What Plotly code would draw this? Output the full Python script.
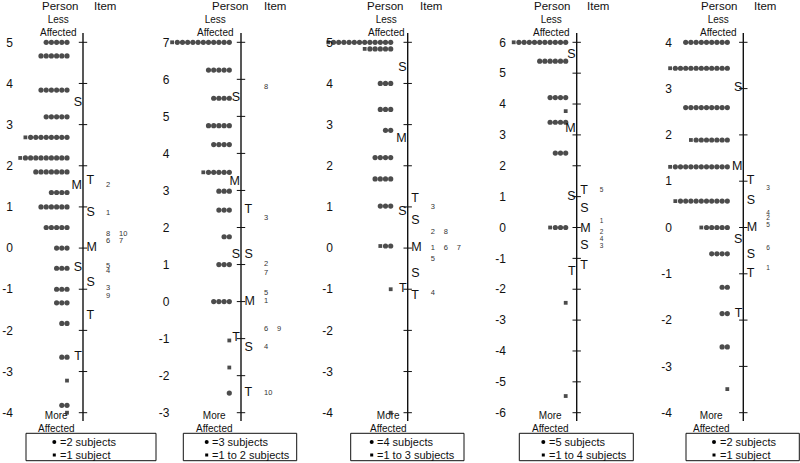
import plotly.graph_objects as go

FONT = "Liberation Sans, Arial, sans-serif"
W, H = 800, 463

# ---------------- data ----------------
# Panel 1  ('#' = 2 subjects, '.' = 1 subject)
p1_ticks = [-4, -3, -2, -1, 0, 1, 2, 3, 4, 5]
p1_person_vals = [5.0, 4.67, 3.84, 3.19, 2.69, 2.19, 1.85, 1.35, 1.0, 0.5, 0.0, -0.49, -1.0, -1.33, -1.83, -2.65, -3.22, -3.82, -4.0]
p1_person_rows = ["#####", "######", "######", "#####", ".########", ".#########", "#######", "####", "######", "#####",
                  "###", "###", "###", "###", "##", "##", ".", "##", "."]
p1_pstat_vals = [3.54, 1.51, -0.48, -2.64]
p1_pstat_lbls = ["S", "M", "S", "T"]
p1_istat_vals = [1.63, 0.86, 0.0, -0.84, -1.65]
p1_istat_lbls = ["T", "S", "M", "S", "T"]
p1_item_vals = [1.52, 0.86, 0.35, 0.16, -0.45, -0.57, -0.97, -1.16]
p1_item_lbls = ["2", "1", "8 10", "6 7", "5", "4", "3", "9"]
p1_legend = ["=2 subjects", "=1 subject"]

# Panel 2  ('#' = 3 subjects, '.' = 1 to 2 subjects)
p2_ticks = [-3, -2, -1, 0, 1, 2, 3, 4, 5, 6, 7]
p2_person_vals = [7.0, 6.25, 5.49, 4.75, 4.24, 3.49, 2.98, 2.47, 1.75, 1.0, 0.0, -1.05, -1.78, -2.47]
p2_person_rows = [".###########", "#####", "####", "#####", "####", ".#####", "###", "###", "##", "###", "####", ".", ".", "#"]
p2_pstat_vals = [5.49, 3.23, 1.27, -0.98]
p2_pstat_lbls = ["S", "M", "S", "T"]
p2_istat_vals = [2.47, 1.27, 0.0, -1.24, -2.47]
p2_istat_lbls = ["T", "S", "M", "S", "T"]
p2_item_vals = [5.78, 2.25, 1.02, 0.78, 0.24, 0.0, -0.75, -1.24, -2.47]
p2_item_lbls = ["8", "3", "2", "7", "5", "1", "6 9", "4", "10"]
p2_legend = ["=3 subjects", "=1 to 2 subjects"]

# Panel 3  ('#' = 4 subjects, '.' = 1 to 3 subjects)
p3_ticks = [-4, -3, -2, -1, 0, 1, 2, 3, 4, 5]
p3_person_vals = [5.0, 4.84, 4.0, 3.37, 2.86, 2.2, 1.68, 1.02, 0.05, -1.0, -4.0]
p3_person_rows = [".############", ".#####", "###", "###", "##", "####", "####", "###", ".##", ".", "."]
p3_pstat_vals = [4.37, 2.65, 0.87, -1.0]
p3_pstat_lbls = ["S", "M", "S", "T"]
p3_istat_vals = [1.2, 0.66, 0.0, -0.63, -1.15]
p3_istat_lbls = ["T", "S", "M", "S", "T"]
p3_item_vals = [1.0, 0.39, 0.0, -0.26, -1.1]
p3_item_lbls = ["3", "2 8", "1 6 7", "5", "4"]
p3_legend = ["=4 subjects", "=1 to 3 subjects"]

# Panel 4  ('#' = 5 subjects, '.' = 1 to 4 subjects)
p4_ticks = [-6, -5, -4, -3, -2, -1, 0, 1, 2, 3, 4, 5, 6]
p4_person_vals = [6.0, 5.39, 4.21, 3.77, 3.41, 2.41, 0.0, -2.44, -5.46]
p4_person_rows = [".##########", "######", "####", ".", "####", "###", ".###", ".", "."]
p4_pstat_vals = [5.59, 3.18, 1.0, -1.44]
p4_pstat_lbls = ["S", "M", "S", "T"]
p4_istat_vals = [1.18, 0.59, -0.05, -0.6, -1.24]
p4_istat_lbls = ["T", "S", "M", "S", "T"]
p4_item_vals = [1.19, 0.2, -0.16, -0.38, -0.62]
p4_item_lbls = ["5", "1", "2", "4", "3"]
p4_legend = ["=5 subjects", "=1 to 4 subjects"]

# Panel 5  ('#' = 2 subjects, '.' = 1 subject)
p5_ticks = [-4, -3, -2, -1, 0, 1, 2, 3, 4]
p5_person_vals = [4.0, 3.44, 2.59, 1.89, 1.31, 0.57, 0.0, -0.57, -1.29, -1.86, -2.58, -3.49]
p5_person_rows = ["#########", ".###########", "#########", ".#######", ".###########", ".##########", ".#####",
                  "####", "##", "##", "##", "."]
p5_pstat_vals = [3.01, 1.31, -0.27, -1.86]
p5_pstat_lbls = ["S", "M", "S", "T"]
p5_istat_vals = [1.0, 0.57, 0.0, -0.6, -1.0]
p5_istat_lbls = ["T", "S", "M", "S", "T"]
p5_item_vals = [0.84, 0.31, 0.19, 0.05, -0.45, -0.88]
p5_item_lbls = ["3", "4", "2", "5", "6", "1"]
p5_legend = ["=2 subjects", "=1 subject"]

header_person = "Person"
header_item = "Item"
top_label = "Less<br>Affected"
bottom_label = "More<br>Affected"

# ---------------- layout (pixel positions) ----------------
panels = [
    dict(ticks=p1_ticks, pv=p1_person_vals, pr=p1_person_rows, psv=p1_pstat_vals, psl=p1_pstat_lbls,
         isv=p1_istat_vals, isl=p1_istat_lbls, iv=p1_item_vals, il=p1_item_lbls, leg=p1_legend,
         left=0, right=160, line=83, dot_end=-16, lab_r=11, person_x=59.5, item_x=105, la_x=58.7, ma_x=57,
         box=(26, 156), leg_x=54.3, ifont=7.5),
    dict(ticks=p2_ticks, pv=p2_person_vals, pr=p2_person_rows, psv=p2_pstat_vals, psl=p2_pstat_lbls,
         isv=p2_istat_vals, isl=p2_istat_lbls, iv=p2_item_vals, il=p2_item_lbls, leg=p2_legend,
         left=160, right=320, line=241, dot_end=-11.7, lab_r=167.5, person_x=229.5, item_x=275, la_x=215, ma_x=214,
         box=(183.3, 296.7), leg_x=206.7, ifont=7.5),
    dict(ticks=p3_ticks, pv=p3_person_vals, pr=p3_person_rows, psv=p3_pstat_vals, psl=p3_pstat_lbls,
         isv=p3_istat_vals, isl=p3_istat_lbls, iv=p3_item_vals, il=p3_item_lbls, leg=p3_legend,
         left=320, right=480, line=407.7, dot_end=-17, lab_r=331, person_x=384.5, item_x=431, la_x=386.7, ma_x=388.3,
         box=(350.7, 464), leg_x=371.7, ifont=7.5),
    dict(ticks=p4_ticks, pv=p4_person_vals, pr=p4_person_rows, psv=p4_pstat_vals, psl=p4_pstat_lbls,
         isv=p4_istat_vals, isl=p4_istat_lbls, iv=p4_item_vals, il=p4_item_lbls, leg=p4_legend,
         left=480, right=640, line=576.7, dot_end=-11, lab_r=504, person_x=551.5, item_x=597.5, la_x=551.7, ma_x=550,
         box=(519.3, 633.3), leg_x=543.3, ifont=6.5),
    dict(ticks=p5_ticks, pv=p5_person_vals, pr=p5_person_rows, psv=p5_pstat_vals, psl=p5_pstat_lbls,
         isv=p5_istat_vals, isl=p5_istat_lbls, iv=p5_item_vals, il=p5_item_lbls, leg=p5_legend,
         left=640, right=800, line=743.3, dot_end=-16, lab_r=670, person_x=719, item_x=765, la_x=718.3, ma_x=711.7,
         box=(686, 799.3), leg_x=714, ifont=6.5),
]

TOP_TICK_PX, BOT_TICK_PX = 42.3, 412.7
LINE_TOP_PX, LINE_BOT_PX = 33, 421
DOT_SP = 5.2
ITEM_OFF = 23
ITEM_COL = 13
INK = "#111111"


def py(p):
    return 1 - p / H


fig = go.Figure()
shapes, annotations = [], []
layout = dict()

for i, P in enumerate(panels, start=1):
    xa, ya = f"x{i}" if i > 1 else "x", f"y{i}" if i > 1 else "y"
    xk, yk = f"xaxis{i}" if i > 1 else "xaxis", f"yaxis{i}" if i > 1 else "yaxis"
    tmin, tmax = min(P["ticks"]), max(P["ticks"])
    ppu = (BOT_TICK_PX - TOP_TICK_PX) / (tmax - tmin)
    yr = [tmin - (H - BOT_TICK_PX) / ppu, tmax + TOP_TICK_PX / ppu]
    layout[xk] = dict(domain=[P["left"] / W, P["right"] / W], range=[P["left"] - P["line"], P["right"] - P["line"]],
                      visible=False, anchor=ya, fixedrange=True)
    layout[yk] = dict(domain=[0, 1], range=yr, anchor="free", position=(P["lab_r"] + 2) / W, side="left",
                      tickvals=P["ticks"], ticktext=[str(t) for t in P["ticks"]], ticks="", showline=False,
                      showgrid=False, zeroline=False, tickfont=dict(family=FONT, size=12, color=INK), fixedrange=True)

    # vertical axis line
    shapes.append(dict(type="line", xref=xa, yref="paper", x0=0, x1=0, y0=py(LINE_BOT_PX), y1=py(LINE_TOP_PX),
                       line=dict(color=INK, width=1.4)))
    # tick crosses
    fig.add_trace(go.Scatter(x=[0] * len(P["ticks"]), y=P["ticks"], mode="markers", xaxis=xa, yaxis=ya,
                             marker=dict(symbol="line-ew", size=6, line=dict(width=1, color=INK)),
                             hoverinfo="skip", showlegend=False))

    # person dots
    xs, ys, syms, sizes = [], [], [], []
    for v, row in zip(P["pv"], P["pr"]):
        n = len(row)
        for k, ch in enumerate(row):
            xs.append(P["dot_end"] - (n - 1 - k) * DOT_SP)
            ys.append(v)
            syms.append("circle" if ch == "#" else "square")
            sizes.append(5.2 if ch == "#" else 3.8)
    fig.add_trace(go.Scatter(x=xs, y=ys, mode="markers", xaxis=xa, yaxis=ya,
                             marker=dict(symbol=syms, size=sizes, color="black", line=dict(width=0)),
                             hoverinfo="skip", showlegend=False))

    # person stats (left of line)
    fig.add_trace(go.Scatter(x=[-1.0] * len(P["psv"]), y=P["psv"], text=P["psl"], mode="text",
                             textposition="middle left", xaxis=xa, yaxis=ya,
                             textfont=dict(family=FONT, size=12.5, color=INK), hoverinfo="skip", showlegend=False))
    # item stats (right of line)
    fig.add_trace(go.Scatter(x=[3.5] * len(P["isv"]), y=P["isv"], text=P["isl"], mode="text",
                             textposition="middle right", xaxis=xa, yaxis=ya,
                             textfont=dict(family=FONT, size=12.5, color=INK), hoverinfo="skip", showlegend=False))
    # item numbers
    ix, iy, it = [], [], []
    for v, lab in zip(P["iv"], P["il"]):
        for c, part in enumerate(lab.split()):
            ix.append(ITEM_OFF + c * ITEM_COL)
            iy.append(v)
            it.append(part)
    fig.add_trace(go.Scatter(x=ix, y=iy, text=it, mode="text", textposition="middle right", xaxis=xa, yaxis=ya,
                             textfont=dict(family=FONT, size=P["ifont"], color="#333333"), hoverinfo="skip",
                             showlegend=False))

    # headers
    annotations.append(dict(text=header_person, x=P["person_x"] / W, y=py(6), xref="paper", yref="paper",
                            showarrow=False, xanchor="center", yanchor="middle",
                            font=dict(family=FONT, size=11.5, color=INK)))
    annotations.append(dict(text=header_item, x=P["item_x"] / W, y=py(6), xref="paper", yref="paper",
                            showarrow=False, xanchor="center", yanchor="middle",
                            font=dict(family=FONT, size=11.5, color=INK)))
    annotations.append(dict(text=top_label, x=P["la_x"] / W, y=py(25.5), xref="paper", yref="paper", showarrow=False,
                            xanchor="center", yanchor="middle", borderpad=0,
                            font=dict(family=FONT, size=10, color=INK)))
    annotations.append(dict(text=bottom_label, x=P["ma_x"] / W, y=py(422), xref="paper", yref="paper",
                            showarrow=False, xanchor="center", yanchor="middle", borderpad=0,
                            font=dict(family=FONT, size=10, color=INK)))

    # legend box
    b0, b1 = P["box"]
    shapes.append(dict(type="rect", xref="paper", yref="paper", x0=b0 / W, x1=b1 / W, y0=py(460.7), y1=py(433.3),
                       line=dict(color=INK, width=1), fillcolor="rgba(0,0,0,0)"))
    lx = P["leg_x"]
    shapes.append(dict(type="circle", xref="paper", yref="paper", x0=(lx - 2) / W, x1=(lx + 2) / W,
                       y0=py(444), y1=py(440), fillcolor="black", line=dict(width=0)))
    shapes.append(dict(type="rect", xref="paper", yref="paper", x0=(lx - 1.5) / W, x1=(lx + 1.5) / W,
                       y0=py(456.5), y1=py(453.5), fillcolor="black", line=dict(width=0)))
    for t, yy in zip(P["leg"], [442, 455]):
        annotations.append(dict(text=t, x=(lx + 3.5) / W, y=py(yy), xref="paper", yref="paper", showarrow=False,
                                xanchor="left", yanchor="middle", font=dict(family=FONT, size=11, color=INK)))

fig.update_layout(width=W, height=H, margin=dict(l=0, r=0, t=0, b=0), plot_bgcolor="white", paper_bgcolor="white",
                  shapes=shapes, annotations=annotations, showlegend=False, **layout)
fig.write_html("out.html", config={"displayModeBar": False},
               post_script="document.body.style.margin='0';document.body.style.padding='0';")
